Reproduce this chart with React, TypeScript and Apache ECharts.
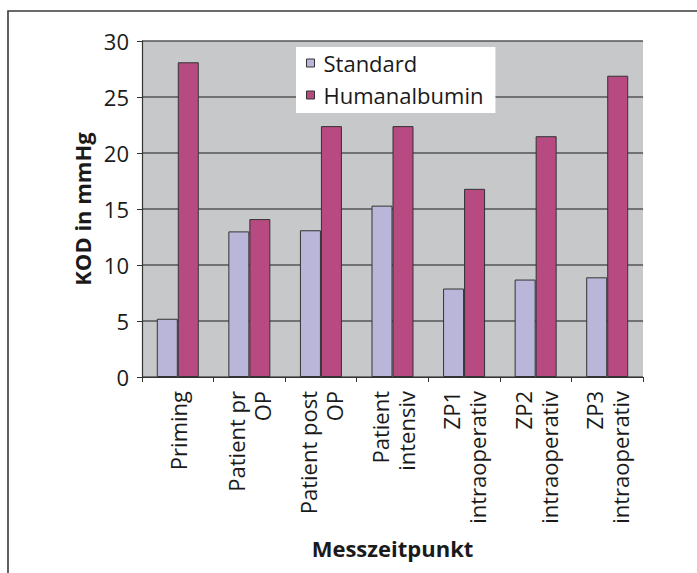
import React, { useEffect, useRef } from "react";
import * as echarts from "echarts";

const categories = [
  "Priming",
  "Patient pr\nOP",
  "Patient post\nOP",
  "Patient\nintensiv",
  "ZP1\nintraoperativ",
  "ZP2\nintraoperativ",
  "ZP3\nintraoperativ",
];
const standardValues = [5.2, 13.0, 13.1, 15.3, 7.9, 8.7, 8.9];
const humanalbuminValues = [28.1, 14.1, 22.4, 22.4, 16.8, 21.5, 26.9];
const seriesNames = ["Standard", "Humanalbumin"];
const yTicks = { min: 0, max: 30, interval: 5 };

const FONT = "'Open Sans', 'Noto Sans', sans-serif";

export default function App() {
  const ref = useRef<HTMLDivElement>(null);
  useEffect(() => {
    if (!ref.current) return;
    const chart = echarts.init(ref.current, null, { renderer: "svg" });
    chart.setOption({
      animation: false,
      backgroundColor: "#ffffff",
      textStyle: { fontFamily: FONT },
      graphic: [
        {
          type: "rect",
          z: -10,
          silent: true,
          shape: { x: 8, y: 11, width: 760, height: 640 },
          style: { fill: "none", stroke: "#3a3a3a", lineWidth: 1.6 },
        },
      ],
      grid: {
        left: 142,
        right: 54,
        top: 41,
        bottom: 196,
        show: true,
        backgroundColor: "#c7c8c9",
        borderWidth: 0,
      },
      legend: {
        orient: "vertical",
        left: 296,
        top: 47,
        backgroundColor: "#ffffff",
        padding: [5, 12, 7, 10],
        itemGap: 10,
        itemWidth: 8,
        itemHeight: 8,
        itemStyle: { borderColor: "#333", borderWidth: 1 },
        icon: "rect",
        textStyle: { fontSize: 22, color: "#1a1a1a", fontFamily: FONT, padding: [0, 0, 0, 4] },
        data: seriesNames,
      },
      xAxis: {
        type: "category",
        data: categories,
        name: "Messzeitpunkt",
        nameLocation: "middle",
        nameGap: 160,
        nameTextStyle: { fontSize: 22, fontWeight: "bold", color: "#1a1a1a", fontFamily: FONT },
        axisLine: { lineStyle: { color: "#333", width: 1.2 } },
        axisTick: { show: true, length: 5, lineStyle: { color: "#333" } },
        axisLabel: {
          rotate: 90,
          fontSize: 22,
          lineHeight: 26,
          color: "#1a1a1a",
          margin: 14,
          interval: 0,
          fontFamily: FONT,
        },
      },
      yAxis: {
        type: "value",
        min: yTicks.min,
        max: yTicks.max,
        interval: yTicks.interval,
        name: "KOD in mmHg",
        nameLocation: "middle",
        nameGap: 45,
        nameTextStyle: { fontSize: 22, fontWeight: "bold", color: "#1a1a1a", fontFamily: FONT },
        axisLine: { show: true, lineStyle: { color: "#333", width: 1.2 } },
        axisTick: { show: true, length: 5, lineStyle: { color: "#333" } },
        axisLabel: { fontSize: 22, color: "#1a1a1a", margin: 13, fontFamily: FONT },
        splitLine: { show: true, lineStyle: { color: "#555", width: 1.5 } },
      },
      series: [
        {
          name: seriesNames[0],
          type: "bar",
          data: standardValues,
          barWidth: 21,
          barGap: "0%",
          itemStyle: { color: "#bab6da", borderColor: "#333", borderWidth: 1 },
        },
        {
          name: seriesNames[1],
          type: "bar",
          data: humanalbuminValues,
          barWidth: 21,
          barGap: "0%",
          itemStyle: { color: "#b64a81", borderColor: "#333", borderWidth: 1 },
        },
      ],
    });
    return () => chart.dispose();
  }, []);
  return (
    <div
      ref={ref}
      style={{ position: "absolute", left: 0, top: 0, width: 697, height: 573 }}
    />
  );
}
